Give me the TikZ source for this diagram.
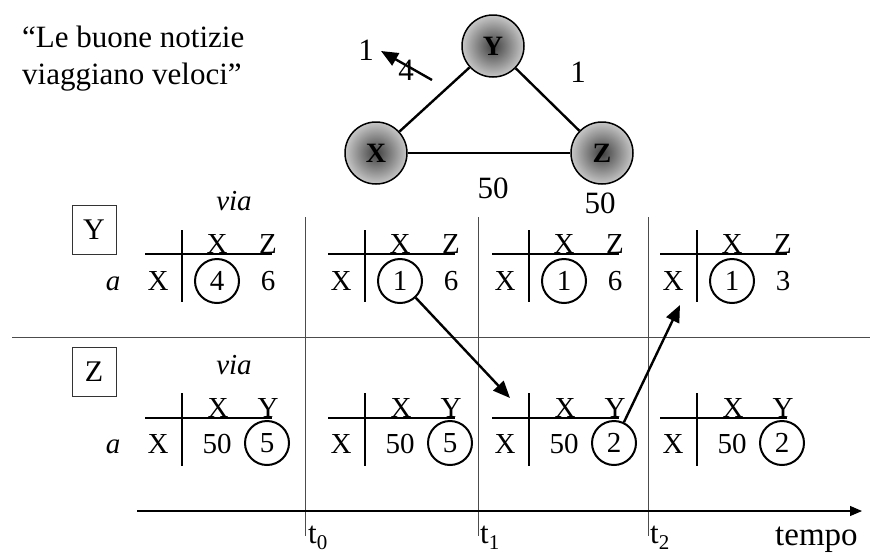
\documentclass[tikz,border=0pt]{standalone}
\usepackage{fontspec}
\setmainfont{Liberation Serif}
\usetikzlibrary{arrows.meta}
\begin{document}
\begin{tikzpicture}[x=1pt,y=-1pt,
  txt/.style={font=\fontsize{29}{32}\selectfont, inner sep=0pt},
  big/.style={font=\fontsize{31}{36}\selectfont, inner sep=0pt},
  tline/.style={line width=2pt},
  thin/.style={line width=1pt, draw=black!70},
  circ/.style={circle, draw, line width=2pt, minimum size=44pt, inner sep=0pt, font=\fontsize{29}{32}\selectfont},
  gnode/.style={circle, draw, line width=1.5pt, minimum size=62pt, inner sep=0pt, shading=radial, inner color=black!75, outer color=black!22, font=\bfseries\fontsize{28}{28}\selectfont},
  gline/.style={line width=2.4pt},
  arr/.style={line width=2.4pt, -{Triangle[length=17pt,width=14pt]}},
  lbox/.style={draw=black!80, line width=1pt, minimum width=44pt, minimum height=49pt, inner sep=0pt, font=\fontsize{30}{32}\selectfont}
]
\useasboundingbox (0,0) rectangle (880,555);

% quote
\node[big, anchor=base west] (q1) at (22,47) {“Le buone notizie};
\node[big, anchor=base west] (q2) at (22,84) {viaggiano veloci”};

% graph
\node[gnode] (Y) at (493,46) {Y};
\node[gnode] (X) at (376,153) {X};
\node[gnode] (Z) at (602,153) {Z};
\draw[gline] (X) -- (Y);
\draw[gline] (Y) -- (Z);
\draw[gline] (X) -- (Z);
\node[big] (l1) at (578,72) {1};
\node[big] (l50) at (493,188) {50};
\node[big] (l50b) at (600,203) {50};
\node[big] (l1b) at (366,50) {1};
\node[big] (l4) at (406,70) {4};
\coordinate (a0) at (432,80);
\coordinate (a1) at (381,51);
\draw[arr] (a0) -- (a1);

% boxes and labels
\node[lbox] (bY) at (94,230) {Y};
\node[lbox] (bZ) at (94,372) {Z};
\node[txt, anchor=base] (aY) at (113,290) {\itshape a};
\node[txt, anchor=base] (aZ) at (113,453) {\itshape a};
\node[txt, anchor=base] (vY) at (234,210) {\itshape via};
\node[txt, anchor=base] (vZ) at (234,374) {\itshape via};

% separator lines
\coordinate (s0) at (12,337);
\coordinate (s1) at (870,337);
\draw[thin] (s0) -- (s1);
\foreach \x/\n in {305/0,478/1,648/2}{
  \coordinate (vt\n) at (\x,217);
  \coordinate (vb\n) at (\x,536);
  \draw[thin] (vt\n) -- (vb\n);
}

% Y tables
\foreach \v/\c/\o [count=\i] in {182/4/6, 365/1/6, 529/1/6, 697/1/3}{
  \draw[tline] (\v-37,254) -- (\v+90,254);
  \draw[tline] (\v,230) -- (\v,302);
  \node[txt, anchor=base] (yhx\i) at (\v+35,253) {X};
  \node[txt, anchor=base] (yhz\i) at (\v+86,253) {Z};
  \node[txt, anchor=base] (yr\i) at (\v-24,290) {X};
  \node[circ] (yc\i) at (\v+35,281) {\c};
  \node[txt, anchor=base] (yo\i) at (\v+86,290) {\o};
}

% Z tables
\foreach \v/\c [count=\i] in {182/5, 365/5, 529/2, 697/2}{
  \draw[tline] (\v-37,418) -- (\v+90,418);
  \draw[tline] (\v,393) -- (\v,466);
  \node[txt, anchor=base] (zhx\i) at (\v+36,417) {X};
  \node[txt, anchor=base] (zhy\i) at (\v+86,417) {Y};
  \node[txt, anchor=base] (zr\i) at (\v-24,453) {X};
  \node[txt, anchor=base] (zf\i) at (\v+35,453) {50};
  \node[circ] (zc\i) at (\v+85,443) {\c};
}

% propagation arrows
\coordinate (p1) at (510,398);
\draw[arr] (yc2) -- (p1);
\coordinate (p2) at (680,305);
\draw[arr] (zc3) -- (p2);

% time axis
\coordinate (ax0) at (137,511);
\coordinate (ax1) at (862,511);
\draw[line width=1.2pt, -{Triangle[length=12pt,width=10pt]}] (ax0) -- (ax1);
\node[big, anchor=base west] (t0) at (308,543) {t\raisebox{-0.2em}{\fontsize{21}{21}\selectfont 0}};
\node[big, anchor=base west] (t1) at (480,543) {t\raisebox{-0.2em}{\fontsize{21}{21}\selectfont 1}};
\node[big, anchor=base west] (t2) at (650,543) {t\raisebox{-0.2em}{\fontsize{21}{21}\selectfont 2}};
\node[font=\fontsize{33}{36}\selectfont, inner sep=0pt, anchor=base west] (tempo) at (775,545) {tempo};
\end{tikzpicture}
\end{document}
